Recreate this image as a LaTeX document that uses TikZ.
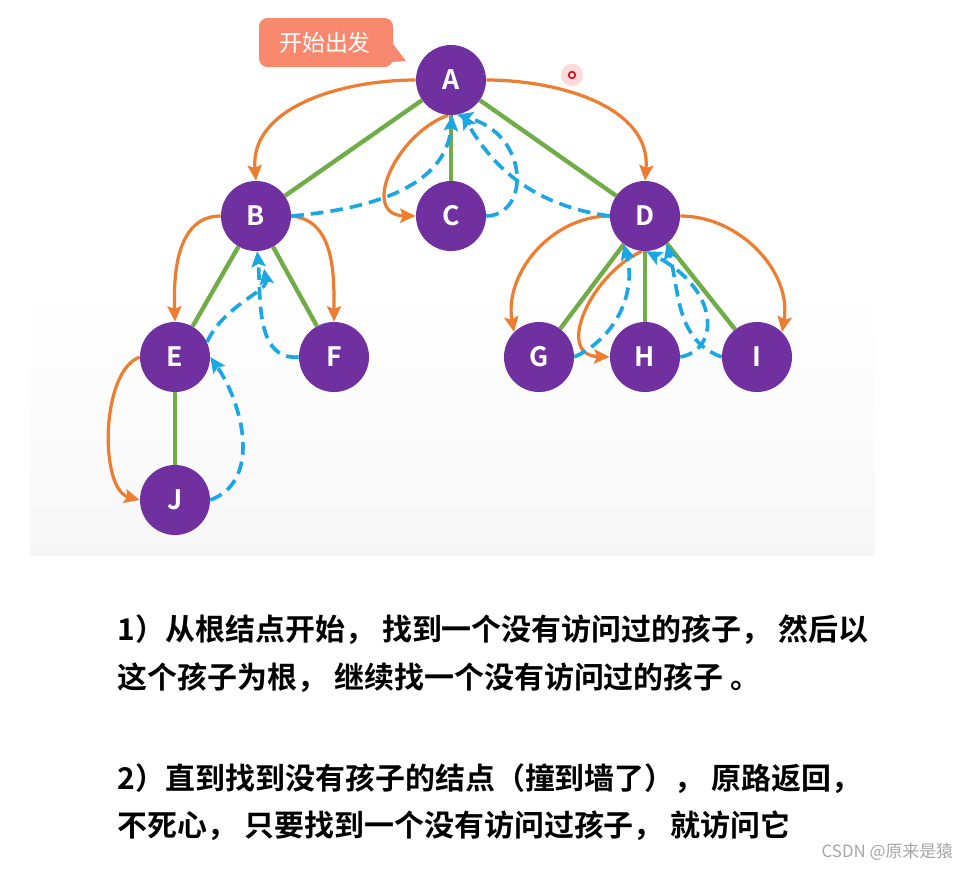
\documentclass[tikz,border=0pt]{standalone}
\usepackage{fontspec}
\setmainfont{Noto Sans CJK SC}[BoldFont={Noto Sans CJK SC Bold}]
\usetikzlibrary{arrows.meta}

\definecolor{vpurple}{HTML}{7030A0}
\definecolor{tgreen}{HTML}{70AD47}
\definecolor{gorange}{HTML}{ED7D31}
\definecolor{bblue}{HTML}{1AA7E4}
\definecolor{salmon}{HTML}{F8896E}
\definecolor{pointred}{HTML}{E8101A}

\pgfdeclarelayer{bg}
\pgfdeclarelayer{edges}
\pgfsetlayers{bg,edges,main}

\begin{document}
\begin{tikzpicture}[x=0.025cm,y=-0.025cm,
    vertex/.style={circle,fill=vpurple,minimum size=1.75cm,inner sep=0pt,
        text=white,font=\bfseries\fontsize{19}{19}\selectfont},
    treeedge/.style={draw=tgreen,line width=3.1pt},
    fwd/.style={draw=gorange,line width=2.3pt,-{Stealth[length=11pt,width=10pt,inset=2pt]}},
    ret/.style={draw=bblue,line width=2.6pt,dash pattern=on 9pt off 5pt,
        -{Stealth[length=11pt,width=10pt,inset=2pt]}},
    note/.style={anchor=west,font=\bfseries\fontsize{21.3}{21.3}\selectfont}]
    \useasboundingbox (0,0) rectangle (963,870);

    %background
    \begin{pgfonlayer}{bg}
        \fill[white] (0,0) rectangle (963,870);
        \shade[top color=white,bottom color=blue!2!gray!6] (30,285) rectangle (875,555);
    \end{pgfonlayer}

    %vertices
    \node[vertex] (A) at (451,80) {A};
    \node[vertex] (B) at (256,216) {B};
    \node[vertex] (C) at (451,216) {C};
    \node[vertex] (D) at (645,216) {D};
    \node[vertex] (E) at (175,357) {E};
    \node[vertex] (F) at (334,357) {F};
    \node[vertex] (G) at (539,357) {G};
    \node[vertex] (H) at (645,357) {H};
    \node[vertex] (I) at (757,357) {I};
    \node[vertex] (J) at (175,500) {J};

    %start label
    \fill[salmon,rounded corners=6pt] (259,18) rectangle (393,67);
    \fill[salmon] (390,40) -- (406,61) -- (390,62) -- cycle;
    \node[text=white,font=\fontsize{16.3}{16.3}\selectfont] (start) at (325,43) {开始出发};

    %pointer
    \fill[pointred,opacity=0.15] (572,75) circle (0.28cm);
    \draw[pointred,line width=1.3pt,fill=white] (572,75) circle (0.08cm);

    \begin{pgfonlayer}{edges}
        %tree
        \draw[treeedge] (A) -- (B);
        \draw[treeedge] (A) -- (C);
        \draw[treeedge] (A) -- (D);
        \draw[treeedge] (B) -- (E);
        \draw[treeedge] (B) -- (F);
        \draw[treeedge] (E) -- (J);
        \draw[treeedge] (D) -- (G);
        \draw[treeedge] (D) -- (H);
        \draw[treeedge] (D) -- (I);

        %going down (orange)
        \draw[fwd] (A.west) to[out=180,in=95] (B.north);
        \draw[fwd] (A.east) to[out=0,in=85] (D.north);
        \draw[fwd] (A.-95) .. controls (395,135) and (360,215) .. (C.west);
        \draw[fwd] (B.west) to[out=180,in=92] (E.north);
        \draw[fwd] (B.east) to[out=-5,in=90] (F.north);
        \draw[fwd] (E.west) to[out=200,in=165,looseness=0.75] (J.west);
        \draw[fwd] (D.west) to[out=180,in=100] (G.north west);
        \draw[fwd] (D.-95) .. controls (590,275) and (555,355) .. (H.west);
        \draw[fwd] (D.east) to[out=0,in=80] (I.north east);

        %going back (blue, dashed)
        \draw[ret] (B.east) to[out=5,in=-95] (A.-88);
        \draw[ret] (C.east) .. controls (530,215) and (530,135) .. (A.-80);
        \draw[ret] (D.west) to[out=172,in=-60] (A.-72);
        \draw[ret] (F.west) to[out=185,in=-85] (B.-88);
        \draw[ret,shorten >=0.45cm] (E.25) to[out=65,in=-80] (B.-82);
        \draw[ret] (J.east) to[out=20,in=-55,looseness=1.0] (E.east);
        \draw[ret] (G.east) to[out=25,in=-75] (D.-127);
        \draw[ret] (H.east) .. controls (720,350) and (720,290) .. (D.-88);
        \draw[ret] (I.west) to[out=160,in=-75] (D.-52);
    \end{pgfonlayer}

    %rules
    \node[note] (r1) at (113,630) {1）从根结点开始， 找到一个没有访问过的孩子， 然后以};
    \node[note] (r2) at (113,678) {这个孩子为根， 继续找一个没有访问过的孩子 。};
    \node[note] (r3) at (113,779) {2）直到找到没有孩子的结点（撞到墙了）， 原路返回，};
    \node[note] (r4) at (113,826) {不死心， 只要找到一个没有访问过孩子， 就访问它};

    %watermark
    \node[anchor=east,text=gray!70,font=\fontsize{12}{12}\selectfont] (wm) at (958,852) {CSDN @原来是猿};
\end{tikzpicture}
\end{document}
